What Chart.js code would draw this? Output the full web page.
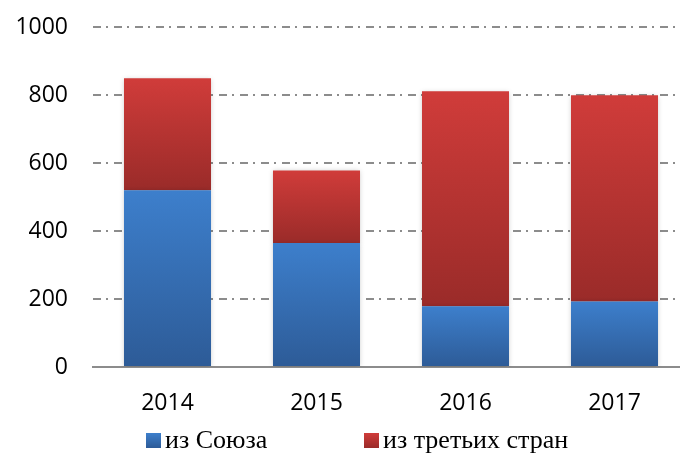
<!DOCTYPE html>
<html>
<head>
<meta charset="utf-8">
<script src="https://cdn.jsdelivr.net/npm/chart.js@4"></script>
<style>
  html, body { margin: 0; padding: 0; background: #fff; }
  body { width: 680px; height: 454px; overflow: hidden; position: relative; }
  #wrap { position: absolute; left: -1px; top: 0; width: 690px; height: 454px; }
</style>
</head>
<body>
<div id="wrap"><canvas id="chart"></canvas></div>
<script>
const years = ['2014', '2015', '2016', '2017'];
const fromUnion = [520, 365, 179, 193];
const fromThird = [329, 213, 632, 606];
const yTicks = [0, 200, 400, 600, 800, 1000];

const blueTop = '#3d7fcc', blueBottom = '#2d5b97';
const redTop = '#d03c3a', redBottom = '#9a2b29';

// gradient inside each bar segment, light at the top and dark at the bottom
function segmentGradient(ctx, top, bottom) {
  const chart = ctx.chart;
  const y = chart.scales.y;
  if (!chart.chartArea || !y) return top;
  const i = ctx.dataIndex;
  let lo = 0, hi = 0;
  if (ctx.datasetIndex === 0) { lo = 0; hi = fromUnion[i]; }
  else { lo = fromUnion[i]; hi = fromUnion[i] + fromThird[i]; }
  const g = chart.ctx.createLinearGradient(0, y.getPixelForValue(hi), 0, y.getPixelForValue(lo));
  g.addColorStop(0, top);
  g.addColorStop(1, bottom);
  return g;
}

const barShadow = {
  id: 'barShadow',
  beforeDatasetsDraw(chart) {
    const c = chart.ctx;
    c.save();
    c.shadowColor = 'rgba(0,0,0,0.22)';
    c.shadowBlur = 5;
    c.shadowOffsetX = 0;
    c.shadowOffsetY = 1;
  },
  afterDatasetsDraw(chart) {
    chart.ctx.restore();
  }
};

// legend under the axis, laid out like the original (wide gap between the two items)
const bottomLegend = {
  id: 'bottomLegend',
  afterDraw(chart) {
    const c = chart.ctx;
    const cols = [[blueTop, blueBottom], [redTop, redBottom]];
    const starts = [147, 365];
    const boxTop = 433, box = 15;
    c.save();
    c.font = '26px "Liberation Serif", "Times New Roman", serif';
    c.textBaseline = 'middle';
    chart.data.datasets.forEach((ds, i) => {
      const g = c.createLinearGradient(0, boxTop, 0, boxTop + box);
      g.addColorStop(0, cols[i][0]);
      g.addColorStop(1, cols[i][1]);
      c.fillStyle = g;
      c.fillRect(starts[i], boxTop, box, box);
      c.fillStyle = '#000';
      c.fillText(ds.label, starts[i] + box + 4, boxTop + box / 2 + 1);
    });
    c.restore();
  }
};

new Chart(document.getElementById('chart'), {
  type: 'bar',
  data: {
    labels: years,
    datasets: [
      {
        label: 'из Союза',
        data: fromUnion,
        backgroundColor: ctx => segmentGradient(ctx, blueTop, blueBottom),
        borderWidth: 0,
        barPercentage: 0.584,
        categoryPercentage: 1
      },
      {
        label: 'из третьих стран',
        data: fromThird,
        backgroundColor: ctx => segmentGradient(ctx, redTop, redBottom),
        borderWidth: 0,
        barPercentage: 0.584,
        categoryPercentage: 1
      }
    ]
  },
  options: {
    responsive: true,
    maintainAspectRatio: false,
    animation: false,
    events: [],
    layout: { padding: { top: 27, bottom: 28, left: 0, right: 0 } },
    plugins: {
      tooltip: { enabled: false },
      legend: { display: false }
    },
    scales: {
      x: {
        stacked: true,
        grid: { display: false, drawTicks: false },
        border: { display: true, color: '#8c8c8c', width: 2 },
        afterFit(axis) { axis.height = 59; },
        ticks: {
          color: '#000',
          padding: 11,
          font: { family: '"Open Sans", sans-serif', size: 23, lineHeight: 2.2 }
        }
      },
      y: {
        stacked: true,
        min: 0,
        max: 1000,
        afterBuildTicks(axis) { axis.ticks = yTicks.map(v => ({ value: v })); },
        afterFit(axis) { axis.width = 94; axis.paddingTop = 0; axis.paddingBottom = 0; },
        grid: {
          color: '#8c8c8c',
          lineWidth: 2,
          drawTicks: false
        },
        border: { display: false, dash: [8, 5, 2, 6] },
        ticks: {
          color: '#000',
          padding: 25,
          font: { family: '"Open Sans", sans-serif', size: 23 },
          callback: v => String(v)
        }
      }
    }
  },
  plugins: [barShadow, bottomLegend]
});
</script>
</body>
</html>
